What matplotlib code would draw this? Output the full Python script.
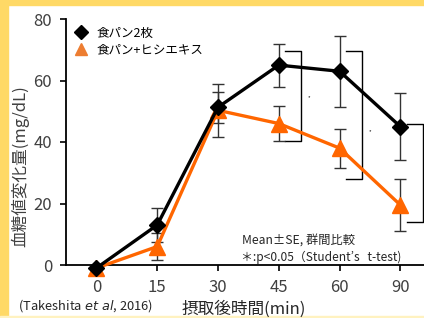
import matplotlib
matplotlib.use('Agg')
import matplotlib.pyplot as plt
from matplotlib.lines import Line2D
from matplotlib.patches import Rectangle
import numpy as np

plt.rcParams['font.family'] = ['Noto Sans CJK JP', 'DejaVu Sans']

times = ['0', '15', '30', '45', '60', '90']
bread_mean = [-1, 13, 51.3, 65, 63, 45]
bread_se = [0, 5.5, 5.1, 7, 11.5, 11]
hishi_mean = [-1, 6, 50.3, 46, 38, 19.5]
hishi_se = [0, 4.5, 8.6, 5.7, 6.3, 8.5]

# significance brackets (position index, top, bottom)
sig_idx = [3, 4, 5]
sig_top = [69.6, 69.6, 45.7]
sig_bottom = [40.3, 27.9, 14.1]
# the star of the last bracket falls outside the picture
star_idx = [3, 4]
star_y = [54.5, 43.2]

fig = plt.figure(figsize=(4.24, 3.18), dpi=100)
fig.patch.set_facecolor('white')
# yellow frame
fig.patches.append(Rectangle((0, 1 - 5 / 318), 1, 5 / 318, transform=fig.transFigure,
                             color='#FFD966', zorder=0))
fig.patches.append(Rectangle((0, 0), 8 / 424, 1, transform=fig.transFigure,
                             color='#FFD966', zorder=0))
fig.patches.append(Rectangle((0, 0), 1, 2 / 318, transform=fig.transFigure,
                             color='#FFF2C0', zorder=0))

ax = fig.add_axes([66 / 424, 53 / 318, 6 * 60.8 / 424, 246 / 318])
x = np.arange(len(times))

ax.errorbar(x, bread_mean, yerr=bread_se, fmt='none', ecolor='#333333',
            elinewidth=1, capsize=4.5, capthick=1, zorder=2, clip_on=False)
ax.errorbar(x, hishi_mean, yerr=hishi_se, fmt='none', ecolor='#333333',
            elinewidth=1, capsize=4.5, capthick=1, zorder=2, clip_on=False)
ax.plot(x, hishi_mean, color='#FF6600', lw=2.4, marker='^', ms=11,
        zorder=3, clip_on=False)
ax.plot(x, bread_mean, color='black', lw=2.4, marker='D', ms=8,
        zorder=4, clip_on=False)

for i, top, bot in zip(sig_idx, sig_top, sig_bottom):
    bx = [i + 0.11, i + 0.365, i + 0.365, i + 0.11]
    ax.plot(bx, [top, top, bot, bot], color='black', lw=1, clip_on=False, zorder=1)
for i, sy in zip(star_idx, star_y):
    ax.text(i + 0.5, sy, '*', fontsize=4, ha='center', va='center', clip_on=False)

ax.set_xlim(-0.5, 5.5)
ax.set_ylim(0, 80)
ax.set_xticks(x)
ax.set_xticklabels(times)
ax.set_yticks([0, 20, 40, 60, 80])
ax.tick_params(labelsize=12, direction='out', length=4, width=1.2, pad=6,
               colors='black', labelcolor='#404040')
for s in ['top', 'right']:
    ax.spines[s].set_visible(False)
for s in ['left', 'bottom']:
    ax.spines[s].set_linewidth(1.3)

handles = [Line2D([], [], color='black', marker='D', ls='none', ms=7),
           Line2D([], [], color='#ED7D31', marker='^', ls='none', ms=8)]
ax.legend(handles, ['食パン2枚', '食パン+ヒシエキス'], loc='upper left',
          bbox_to_anchor=(-0.015, 1.0), frameon=False, fontsize=9,
          handletextpad=0.3, borderaxespad=0.2, labelspacing=0.3)

fig.text(20 / 424, 0.478, '血糖値変化量(mg/dL)', rotation=90, fontsize=12,
         ha='center', va='center', color='#404040')
fig.text(0.575, 0.028, '摂取後時間(min)', fontsize=12, ha='center', va='center',
         color='#262626')
fig.text(18 / 424, 0.038, '(Takeshita $\\it{et\\ al}$, 2016)', fontsize=9.3,
         ha='left', va='center', color='#262626')
fig.text(242 / 424, 0.245, 'Mean±SE, 群間比較', fontsize=8.8, ha='left',
         va='center', color='#262626')
fig.text(241 / 424, 0.192, '＊:p<0.05（Student\u2019s   t-test)', fontsize=8.6,
         ha='left', va='center', color='#262626')

fig.savefig('out.png', dpi=100)
